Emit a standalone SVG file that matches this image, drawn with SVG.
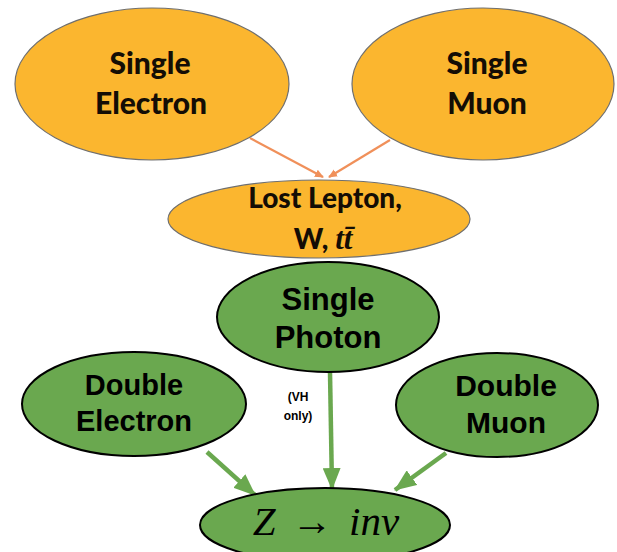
<svg xmlns="http://www.w3.org/2000/svg" width="617" height="552" viewBox="0 0 617 552">
<defs>
<style>
.orange{fill:#fbb62f;stroke:#6f6f6f;stroke-width:1.2}
.green{fill:#6aa84f;stroke:#000;stroke-width:2}
.lbl{font-family:Lato,"Liberation Sans",sans-serif;font-weight:900;fill:#140d05;text-anchor:middle}
.glbl{font-family:"Liberation Sans",Arial,sans-serif;font-weight:bold;fill:#000;text-anchor:middle}
.oarrow{stroke:#f0905a;stroke-width:2.2;fill:none}
.garrow{stroke:#6aa84f;stroke-width:4.5;fill:none}
</style>
<marker id="ao" markerWidth="10" markerHeight="10" refX="8" refY="5" orient="auto" markerUnits="userSpaceOnUse" viewBox="0 0 10 10">
<path d="M0,1 L9,5 L0,9 z" fill="#f0905a"/>
</marker>
<marker id="ag" markerWidth="22" markerHeight="18" refX="21" refY="9" orient="auto" markerUnits="userSpaceOnUse" viewBox="0 0 22 18">
<path d="M0,0 L22,9 L0,18 z" fill="#6aa84f"/>
</marker>
</defs>
<rect width="617" height="552" fill="#fff"/>
<g id="connectors">
<line class="oarrow" x1="250" y1="138" x2="323" y2="177" marker-end="url(#ao)"/>
<line class="oarrow" x1="390" y1="140" x2="329" y2="177" marker-end="url(#ao)"/>
<line class="garrow" x1="207" y1="452" x2="255" y2="495" marker-end="url(#ag)"/>
<line class="garrow" x1="330" y1="372" x2="332" y2="489" marker-end="url(#ag)"/>
<line class="garrow" x1="446" y1="453" x2="395" y2="490" marker-end="url(#ag)"/>
</g>
<g id="single-electron">
<ellipse class="orange" cx="152" cy="84" rx="137" ry="76"/>
<text class="lbl" x="150" y="74" font-size="30">Single</text>
<text class="lbl" x="151" y="114" font-size="30">Electron</text>
</g>
<g id="single-muon">
<ellipse class="orange" cx="483" cy="84" rx="131" ry="76"/>
<text class="lbl" x="487" y="74" font-size="30">Single</text>
<text class="lbl" x="487" y="114" font-size="30">Muon</text>
</g>
<g id="lost-lepton">
<ellipse class="orange" cx="319" cy="219" rx="151" ry="39"/>
<text class="lbl" x="325" y="208" font-size="28">Lost Lepton,</text>
<text class="lbl" x="323" y="249" font-size="28">W, <tspan font-family="'Liberation Serif',serif" font-style="italic" font-weight="bold" font-size="31">tt̄</tspan></text>
</g>
<g id="single-photon">
<ellipse class="green" cx="328" cy="317" rx="111" ry="55"/>
<text class="glbl" x="328" y="310" font-size="31">Single</text>
<text class="glbl" x="328" y="348" font-size="31">Photon</text>
</g>
<g id="double-electron">
<ellipse class="green" cx="134" cy="404" rx="112" ry="52"/>
<text class="glbl" x="134" y="395" font-size="29">Double</text>
<text class="glbl" x="134" y="431" font-size="29">Electron</text>
</g>
<g id="double-muon">
<ellipse class="green" cx="497" cy="405" rx="101" ry="52"/>
<text class="glbl" x="506" y="396" font-size="30">Double</text>
<text class="glbl" x="506" y="433" font-size="30">Muon</text>
</g>
<g id="vh-note">
<text class="glbl" x="298" y="401" font-size="12">(VH</text>
<text class="glbl" x="298" y="420" font-size="12">only)</text>
</g>
<g id="z-inv">
<ellipse class="green" cx="325" cy="525" rx="125" ry="37"/>
<text x="326" y="535" font-size="41" text-anchor="middle" font-family="'Liberation Serif',serif" fill="#000" word-spacing="6"><tspan font-style="italic">Z</tspan> → <tspan font-style="italic">inv</tspan></text>
</g>
</svg>
